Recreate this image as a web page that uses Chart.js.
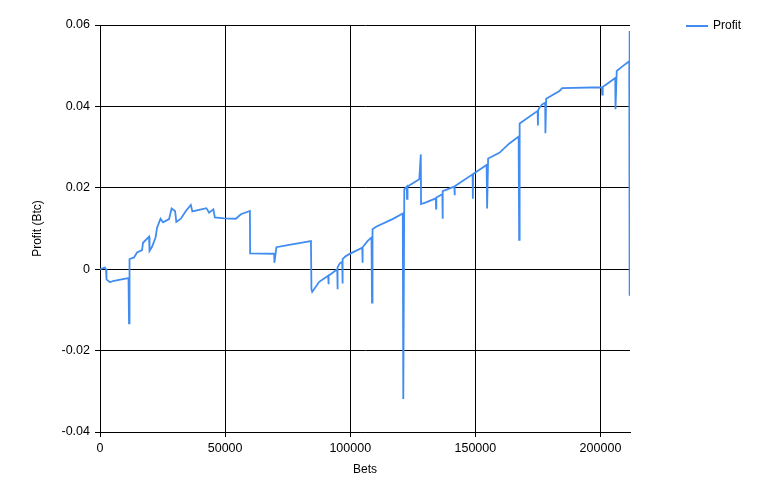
<!DOCTYPE html>
<html>
<head>
<meta charset="utf-8">
<script src="https://cdn.jsdelivr.net/npm/chart.js@4"></script>
<style>
  html, body { margin: 0; padding: 0; background: #fff; }
  #wrap { position: relative; width: 778px; height: 499px; }
  #legend { position: absolute; left: 686px; top: 18px; font: 12px "Liberation Sans", Arial, sans-serif; color: #000; }
  #legend span.line { display: inline-block; width: 22px; height: 2px; background: #418CF0; vertical-align: middle; margin-right: 5px; }
</style>
</head>
<body>
<div id="wrap">
  <canvas id="grafico" width="778" height="499"></canvas>
  <div id="legend"><span class="line"></span>Profit</div>
</div>
<script>
// Datos
const bets = [
  0, 2000, 2400, 2600, 3200, 4000, 5200, 7600, 11400, 11600,
  11800, 13600, 14800, 16800, 17200, 19600, 19800, 20800, 22200, 22800,
  24200, 25200, 27600, 28600, 30000, 30500, 32300, 34300, 36300, 36900,
  39600, 42500, 43600, 45300, 45900, 49600, 54300, 56300, 59900, 60000,
  69600, 69700, 70500, 75600, 79600, 84300, 84500, 84800, 87600, 91200,
  91300, 91400, 94800, 94900, 95000, 95900, 96800, 96900, 97000, 98000,
  99600, 104800, 104900, 105000, 106900, 108500, 108700, 108900, 110500, 116900,
  121000, 121200, 121600, 122600, 122700, 122900, 127600, 128200, 128300, 130300,
  134200, 134300, 134400, 136800, 136900, 137000, 141600, 141700, 141800, 148900,
  149000, 149100, 150300, 154500, 154700, 155100, 159600, 163600, 167300, 167500,
  167700, 174900, 175000, 175100, 175600, 176700, 177900, 178000, 178300, 183600,
  184700, 200600, 200700, 200900, 202300, 205900, 206000, 206500, 208900, 211500,
  211600, 211700
];
const profit = [
  0, 0.0004, 0, -0.0025, -0.0028, -0.0032, -0.0029, -0.0026, -0.0022, -0.0133,
  0.0025, 0.0029, 0.0041, 0.0047, 0.0065, 0.008, 0.0045, 0.0055, 0.0078, 0.0102,
  0.0124, 0.0115, 0.0123, 0.0149, 0.0143, 0.0116, 0.0124, 0.0143, 0.0158, 0.0142,
  0.0146, 0.015, 0.0139, 0.0147, 0.0127, 0.0125, 0.0124, 0.0135, 0.0143, 0.0039,
  0.0038, 0.0016, 0.0054, 0.006, 0.0064, 0.0069, -0.0049, -0.0056, -0.0031, -0.0016,
  -0.0037, -0.0016, 0, -0.0049, 0.0005, 0.0015, 0.0018, -0.0035, 0.0025, 0.0031,
  0.0037, 0.0053, 0.0016, 0.0054, 0.0069, 0.0078, -0.0082, 0.0098, 0.0105, 0.0123,
  0.0137, -0.0319, 0.0196, 0.0203, 0.0173, 0.0203, 0.0221, 0.0282, 0.016, 0.0164,
  0.0174, 0.0149, 0.0176, 0.0184, 0.0124, 0.0192, 0.0203, 0.0182, 0.0204, 0.0233,
  0.0173, 0.0234, 0.0239, 0.0256, 0.0149, 0.0272, 0.0286, 0.0309, 0.0326, 0.0072,
  0.0358, 0.0389, 0.0353, 0.039, 0.0397, 0.0405, 0.0409, 0.0334, 0.0419, 0.0438,
  0.0445, 0.0447, 0.0429, 0.0448, 0.0454, 0.047, 0.0393, 0.0487, 0.0499, 0.0511,
  0.0585, -0.0065
];
const xTicks = [0, 50000, 100000, 150000, 200000];
const yTicks = [-0.04, -0.02, 0, 0.02, 0.04, 0.06];

const puntos = bets.map((b, i) => ({ x: b, y: profit[i] }));
const fuente = { family: '"Liberation Sans", Arial, sans-serif', size: 12.5 };

const ctx = document.getElementById("grafico").getContext("2d");
new Chart(ctx, {
  type: "line",
  data: {
    datasets: [{
      label: "Profit",
      data: puntos,
      borderColor: "#418CF0",
      borderWidth: 1.8,
      pointRadius: 0,
      tension: 0,
      fill: false
    }]
  },
  options: {
    responsive: false,
    animation: false,
    layout: { padding: { left: 26, top: 25, right: 148, bottom: 18 } },
    plugins: { legend: { display: false }, tooltip: { enabled: false } },
    scales: {
      x: {
        type: "linear",
        min: 0,
        max: 211800,
        afterBuildTicks: s => { s.ticks = xTicks.map(v => ({ value: v })); },
        afterFit: s => { s.height = 49; },
        ticks: { color: "#000", font: fuente, maxRotation: 0, padding: 4,
                 callback: v => String(v) },
        grid: { color: "#000", lineWidth: 1, tickLength: 5, tickColor: "#000" },
        border: { color: "#000", width: 1 },
        title: { display: true, text: "Bets", color: "#000", font: { family: fuente.family, size: 12 } }
      },
      y: {
        min: -0.04,
        max: 0.06,
        afterBuildTicks: s => { s.ticks = yTicks.map(v => ({ value: v })); },
        afterFit: s => { s.width = 74; },
        ticks: { color: "#000", font: fuente, padding: 5,
                 callback: v => String(Math.round(v * 100) / 100) },
        grid: { color: "#000", lineWidth: 1, tickLength: 5, tickColor: "#000" },
        border: { color: "#000", width: 1 },
        title: { display: true, text: "Profit (Btc)", color: "#000", font: { family: fuente.family, size: 12 } }
      }
    }
  }
});
</script>
</body>
</html>
